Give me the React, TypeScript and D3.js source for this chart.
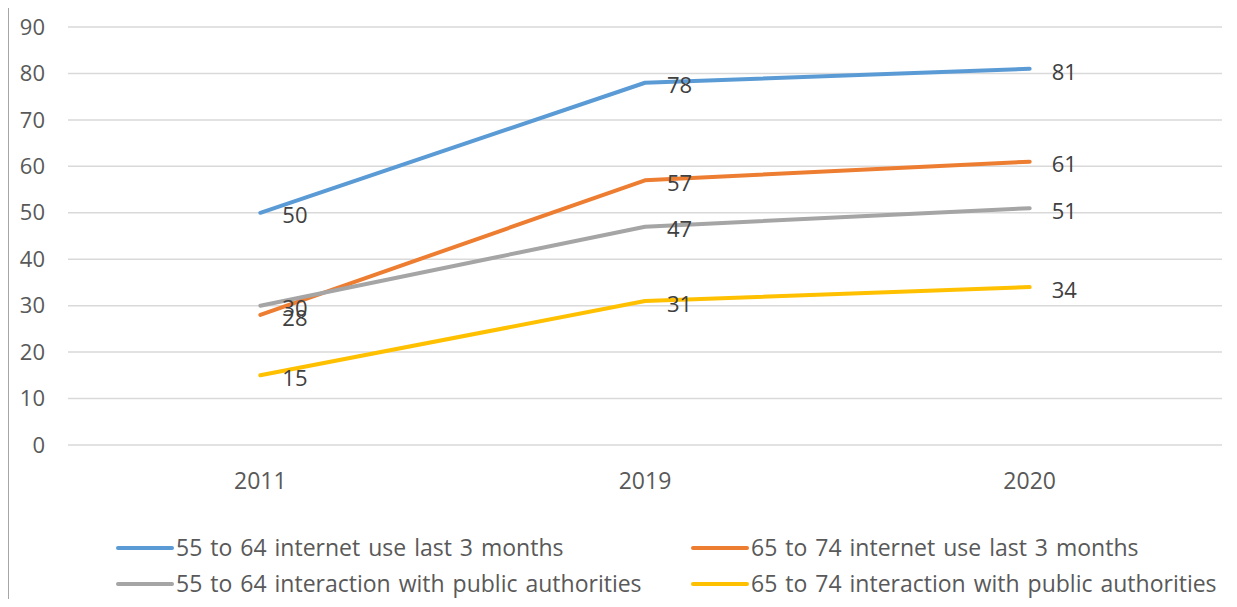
import React, { useEffect, useRef } from 'react';
import * as d3 from 'd3';

const years = ['2011', '2019', '2020'];
const seriesNames = [
  '55 to 64 internet use last 3 months',
  '65 to 74 internet use last 3 months',
  '55 to 64 interaction with public authorities',
  '65 to 74 interaction with public authorities',
];
const internet5564 = [50, 78, 81];
const internet6574 = [28, 57, 61];
const authorities5564 = [30, 47, 51];
const authorities6574 = [15, 31, 34];
const colors = ['#5b9bd5', '#ed7d31', '#a5a5a5', '#ffc000'];
const yTicks = [0, 10, 20, 30, 40, 50, 60, 70, 80, 90];

const App: React.FC = () => {
  const svgRef = useRef<SVGSVGElement>(null);

  useEffect(() => {
    if (!svgRef.current) return;
    const svg = d3.select(svgRef.current);
    svg.selectAll('*').remove();

    const font = '"Open Sans", "DejaVu Sans", sans-serif';
    const textColor = '#595959';

    // outer frame (only top and left visible in reference)
    svg.append('line').attr('x1', 7).attr('x2', 1237).attr('y1', 5.5).attr('y2', 5.5)
      .attr('stroke', '#a6a6a6').attr('stroke-width', 2);
    svg.append('line').attr('x1', 8).attr('x2', 8).attr('y1', 5).attr('y2', 607)
      .attr('stroke', '#a6a6a6').attr('stroke-width', 2);

    const x = d3.scaleBand<string>().domain(years).range([68, 1222]);
    const y = d3.scaleLinear().domain([0, 90]).range([445, 27]);
    const cx = (d: string) => (x(d) ?? 0) + x.bandwidth() / 2;

    // gridlines
    svg.append('g').selectAll('line').data(yTicks).enter().append('line')
      .attr('x1', 68).attr('x2', 1222)
      .attr('y1', d => y(d)).attr('y2', d => y(d))
      .attr('stroke', '#d9d9d9').attr('stroke-width', 1.5);

    // y tick labels
    svg.append('g').selectAll('text').data(yTicks).enter().append('text')
      .attr('x', 45).attr('y', d => y(d)).attr('dy', '0.35em')
      .attr('text-anchor', 'end').attr('font-family', font).attr('font-size', 22)
      .attr('fill', textColor).text(d => d);

    // x labels
    svg.append('g').selectAll('text').data(years).enter().append('text')
      .attr('x', d => cx(d)).attr('y', 481).attr('dy', '0.35em')
      .attr('text-anchor', 'middle').attr('font-family', font).attr('font-size', 23)
      .attr('fill', textColor).text(d => d);

    const allSeries = [internet5564, internet6574, authorities5564, authorities6574];
    const line = d3.line<number>()
      .x((_, i) => cx(years[i]))
      .y(d => y(d));

    allSeries.forEach((vals, si) => {
      svg.append('path').datum(vals)
        .attr('fill', 'none').attr('stroke', colors[si]).attr('stroke-width', 4)
        .attr('stroke-linecap', 'round').attr('stroke-linejoin', 'round')
        .attr('d', line);
    });

    allSeries.forEach(vals => {
      svg.append('g').selectAll('text').data(vals).enter().append('text')
        .attr('x', (_, i) => cx(years[i]) + 22)
        .attr('y', d => y(d) + 3).attr('dy', '0.35em')
        .attr('font-family', font).attr('font-size', 22)
        .attr('fill', '#404040').text(d => d);
    });

    // legend
    const legendPos = [
      [118, 548], [693, 548], [118, 584], [693, 584],
    ];
    seriesNames.forEach((name, i) => {
      const [lx, ly] = legendPos[i];
      const g = svg.append('g').attr('transform', `translate(${lx},${ly})`);
      g.append('line').attr('x1', 0).attr('x2', 54).attr('y1', 0).attr('y2', 0)
        .attr('stroke', colors[i]).attr('stroke-width', 4).attr('stroke-linecap', 'round');
      g.append('text').attr('x', 58).attr('y', 0).attr('dy', '0.35em')
        .attr('font-family', font).attr('font-size', 23).attr('word-spacing', 2)
        .attr('fill', textColor).text(name);
    });
  }, []);

  return (
    <div style={{ margin: -8 }}>
      <svg ref={svgRef} width={1237} height={607} style={{ display: 'block', background: '#fff' }} />
    </div>
  );
};

export default App;
